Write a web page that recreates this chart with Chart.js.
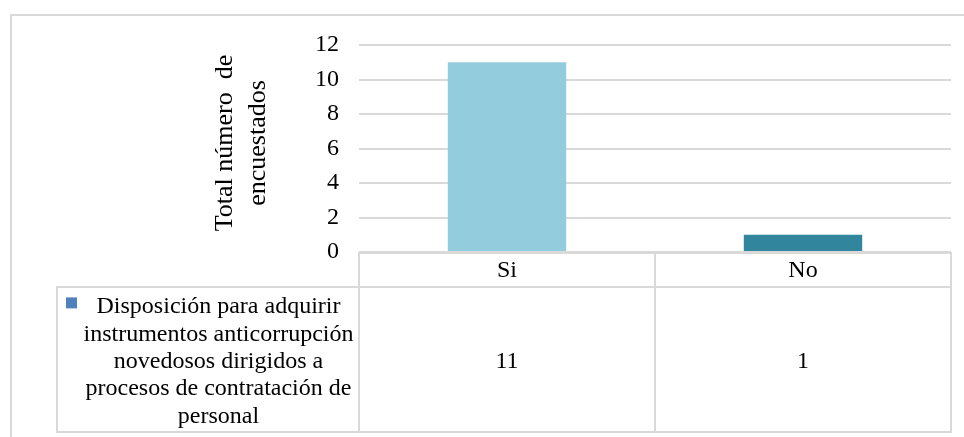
<!DOCTYPE html>
<html><head><meta charset="utf-8">
<script src="https://cdn.jsdelivr.net/npm/chart.js@4/dist/chart.umd.min.js"></script>
<style>html,body{margin:0;padding:0;background:#fff;}#wrap{width:964px;height:437px;position:relative}</style>
</head><body><div id="wrap"><canvas id="c" width="964" height="437"></canvas></div>
<script>
const categories = ['Si', 'No'];
const values = [11, 1];
const seriesNameLines = ['Disposición para adquirir', 'instrumentos anticorrupción', 'novedosos dirigidos a', 'procesos de contratación de', 'personal'];
const yTicks = [0, 2, 4, 6, 8, 10, 12];
const yTitleLines = ['Total número  de', 'encuestados'];
const barColors = ['#93CDDD', '#31859C'];
const seriesKeyColor = '#4F81BD';

const FONT = '"Liberation Serif", "Times New Roman", serif';
const LINE = '#d9d9d9';

const tablePlugin = {
  id: 'tablePlugin',
  beforeDraw(chart) {
    const ctx = chart.ctx;
    ctx.save();
    ctx.fillStyle = '#fff';
    ctx.fillRect(0, 0, chart.width, chart.height);
    ctx.strokeStyle = LINE;
    ctx.lineWidth = 2;
    ctx.beginPath();
    ctx.moveTo(11, chart.height + 2);
    ctx.lineTo(11, 15);
    ctx.lineTo(chart.width + 2, 15);
    ctx.stroke();
    ctx.restore();
  },
  afterDraw(chart) {
    const ctx = chart.ctx;
    const x = chart.scales.x, y = chart.scales.y;
    const y0 = Math.round(y.getPixelForValue(0)) + 1;
    const row1 = y0 + 34;
    const bottom = Math.round(x.bottom) - 1;
    const tableLeft = 57;
    const left = Math.round(x.left), right = Math.round(x.right);
    const n = categories.length;
    const bounds = [left];
    for (let i = 1; i < n; i++) bounds.push(Math.round((x.getPixelForValue(i - 1) + x.getPixelForValue(i)) / 2));
    bounds.push(right);

    ctx.save();
    ctx.strokeStyle = LINE;
    ctx.lineWidth = 2;
    ctx.lineCap = 'square';
    ctx.beginPath();
    ctx.moveTo(left, y0); ctx.lineTo(right, y0);
    ctx.moveTo(tableLeft, row1); ctx.lineTo(right, row1);
    ctx.moveTo(tableLeft, bottom); ctx.lineTo(right, bottom);
    ctx.moveTo(tableLeft, row1); ctx.lineTo(tableLeft, bottom);
    bounds.forEach(b => { ctx.moveTo(b, y0); ctx.lineTo(b, bottom); });
    ctx.stroke();

    ctx.fillStyle = '#000';
    ctx.font = '24px ' + FONT;
    ctx.textAlign = 'center';
    ctx.textBaseline = 'middle';
    const r1c = (y0 + row1) / 2 + 1;
    const r2c = (row1 + bottom) / 2;
    categories.forEach((c, i) => {
      const cx = x.getPixelForValue(i);
      ctx.fillText(c, cx, r1c);
      ctx.fillText(String(values[i]), cx, r2c + 2);
    });

    // legend cell
    ctx.textBaseline = 'alphabetic';
    const lh = 27.3;
    const textCx = (tableLeft + 21 + left) / 2;
    const nl = seriesNameLines.length;
    const midBase = r2c + 8.5;
    seriesNameLines.forEach((t, i) => {
      ctx.fillText(t, textCx, midBase + (i - (nl - 1) / 2) * lh);
    });
    const firstBase = midBase - (nl - 1) / 2 * lh;
    ctx.fillStyle = seriesKeyColor;
    ctx.fillRect(66, firstBase - 16, 11, 11);

    // y title
    ctx.fillStyle = '#000';
    ctx.font = '26px ' + FONT;
    ctx.translate(0, 143);
    ctx.rotate(-Math.PI / 2);
    ctx.textAlign = 'center';
    ctx.fillText(yTitleLines[0], 0, 232);
    ctx.fillText(yTitleLines[1], 0, 265);
    ctx.restore();
  }
};

new Chart(document.getElementById('c'), {
  type: 'bar',
  data: {
    labels: categories,
    datasets: [{
      label: seriesNameLines.join(' '),
      data: values,
      backgroundColor: barColors,
      borderWidth: 0,
      barPercentage: 0.4,
      categoryPercentage: 1
    }]
  },
  options: {
    responsive: false,
    animation: false,
    devicePixelRatio: 1,
    layout: { padding: { left: 0, top: 45, right: 13, bottom: 4 } },
    plugins: { legend: { display: false }, tooltip: { enabled: false }, title: { display: false } },
    scales: {
      x: {
        offset: true,
        grid: { display: false },
        border: { display: false },
        ticks: { display: false },
        afterFit(s) { s.height = 181; }
      },
      y: {
        min: 0, max: 12,
        afterBuildTicks(s) { s.ticks = yTicks.map(v => ({ value: v })); },
        grid: { color: LINE, lineWidth: 2, drawTicks: false },
        border: { display: false },
        ticks: { font: { family: FONT, size: 24 }, color: '#000', padding: 20 },
        afterFit(s) { s.width = 359; }
      }
    }
  },
  plugins: [tablePlugin]
});
</script>
</body></html>
